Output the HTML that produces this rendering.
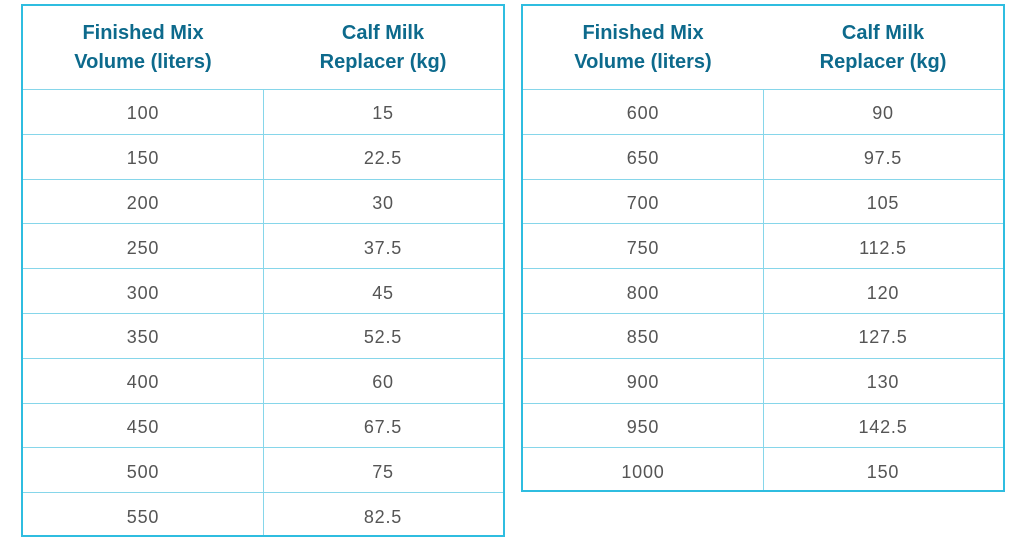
<!DOCTYPE html>
<html><head><meta charset="utf-8"><style>
body{margin:0;width:1024px;height:544px;background:#fff;position:relative;overflow:hidden;font-family:"Liberation Sans",sans-serif}
.t{position:absolute;border:2px solid #2fbde0;box-sizing:border-box}
.row{position:absolute;left:0;right:0;border-top:1px solid #86d6ea}
.cell{position:absolute;text-align:center;color:#555;font-size:18px;display:flex;align-items:center;justify-content:center}
.num{letter-spacing:0.8px;padding-top:3px;box-sizing:border-box}
.hd{color:#0d6a8c;font-weight:bold;font-size:20px;line-height:29px}
.vl{position:absolute;width:1px;background:#86d6ea}
</style></head><body>
<div id="root"></div>
<script>
const left=[[100,"15"],[150,"22.5"],[200,"30"],[250,"37.5"],[300,"45"],[350,"52.5"],[400,"60"],[450,"67.5"],[500,"75"],[550,"82.5"]];
const right=[[600,"90"],[650,"97.5"],[700,"105"],[750,"112.5"],[800,"120"],[850,"127.5"],[900,"130"],[950,"142.5"],[1000,"150"]];
function build(data,x,name){
  const W=484,H=83,R=44.8,h=H+data.length*R+2;
  const t=document.createElement('div');t.className='t';
  
  
  t.style.left=x+'px';t.style.top='4px';t.style.width=W+'px';t.style.height=h+'px';
  const cw=(W-4)/2;
  const h1=document.createElement('div');h1.className='cell hd';
  
  
  h1.style.cssText=`left:0;top:0;width:${cw}px;height:${H}px`;h1.innerHTML='Finished Mix<br>Volume (liters)';t.appendChild(h1);
  const h2=document.createElement('div');h2.className='cell hd';
  
  
  h2.style.cssText=`left:${cw}px;top:0;width:${cw}px;height:${H}px`;h2.innerHTML='Calf Milk<br>Replacer (kg)';t.appendChild(h2);
  const v=document.createElement('div');v.className='vl';
  
  
  v.style.cssText=`left:${cw}px;top:${H}px;bottom:0`;t.appendChild(v);
  data.forEach((d,i)=>{
    const y=H+i*R;
    const r=document.createElement('div');r.className='row';
    
    
    r.style.top=y+'px';r.style.height=R+'px';t.appendChild(r);
    const a=document.createElement('div');a.className='cell num';
    
    
    a.style.cssText=`left:0;top:0;width:${cw}px;height:${R}px`;a.textContent=d[0];r.appendChild(a);
    const b=document.createElement('div');b.className='cell num';
    
    
    b.style.cssText=`left:${cw}px;top:0;width:${cw}px;height:${R}px`;b.textContent=d[1];r.appendChild(b);
  });
  document.getElementById('root').appendChild(t);
}
build(left,21,'left-table');
build(right,521,'right-table');
</script>
</body></html>
